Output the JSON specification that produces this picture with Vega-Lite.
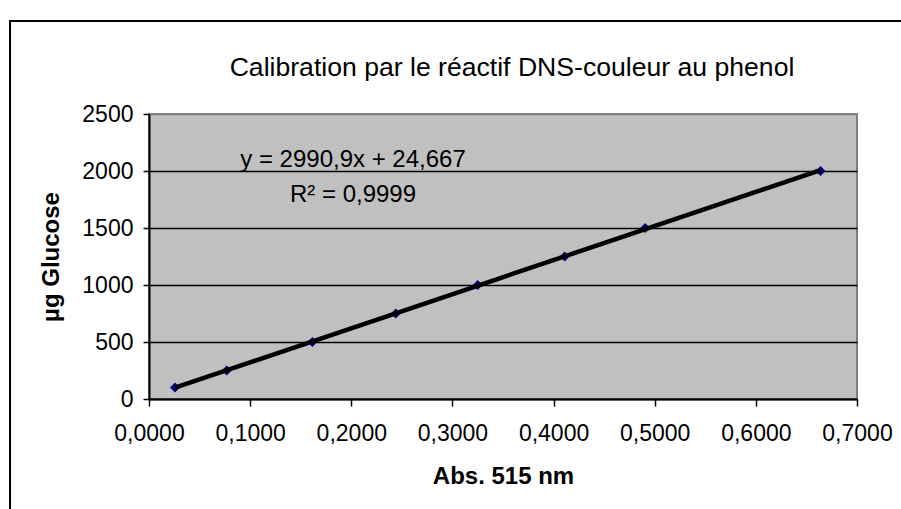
{
  "$schema": "https://vega.github.io/schema/vega-lite/v6.json",
  "width": 708,
  "height": 285,
  "autosize": {"type": "none"},
  "padding": {"left": 149, "top": 114, "right": 44, "bottom": 110},
  "background": "white",
  "title": {
    "text": "Calibration par le réactif DNS-couleur au phenol",
    "fontSize": 26.6,
    "fontWeight": "normal",
    "anchor": "middle",
    "frame": "group",
    "offset": -62,
    "dx": 9,
    "color": "black"
  },
  "config": {
    "font": "Liberation Sans",
    "locale": {"number": {"decimal": ",", "thousands": " ", "grouping": [3], "currency": ["", ""]}},
    "view": {"stroke": "#808080", "strokeWidth": 2, "fill": "#C0C0C0"}
  },
  "datasets": {
    "points": [
      {"abs": 0.0257, "glucose": 100},
      {"abs": 0.0768, "glucose": 250},
      {"abs": 0.1615, "glucose": 500},
      {"abs": 0.244, "glucose": 750},
      {"abs": 0.325, "glucose": 1000},
      {"abs": 0.411, "glucose": 1250},
      {"abs": 0.4905, "glucose": 1500},
      {"abs": 0.664, "glucose": 2000}
    ],
    "labels": [
      {"abs": 0.2017, "glucose": 2035, "text": "y = 2990,9x + 24,667"},
      {"abs": 0.2017, "glucose": 1728, "text": "R² = 0,9999"}
    ],
    "frame": [{"x1": -0.1374, "x2": 0.9, "y1": 3316, "y2": -1200}]
  },
  "encoding": {
    "x": {
      "field": "abs",
      "type": "quantitative",
      "scale": {"domain": [0, 0.7], "nice": false, "zero": false},
      "axis": {
        "title": "Abs. 515 nm",
        "values": [0, 0.1, 0.2, 0.3, 0.4, 0.5, 0.6, 0.7],
        "format": ".4f",
        "grid": false,
        "domainColor": "black",
        "domainWidth": 2,
        "tickColor": "black",
        "tickWidth": 1.5,
        "tickSize": 7,
        "labelFontSize": 23,
        "labelColor": "black",
        "labelPadding": 16,
        "labelFlush": false,
        "labelOverlap": false,
        "labelBound": false,
        "titleFontSize": 24,
        "titleFontWeight": "bold",
        "titleColor": "black",
        "titlePadding": 19
      }
    },
    "y": {
      "field": "glucose",
      "type": "quantitative",
      "scale": {"domain": [0, 2500], "nice": false, "zero": false},
      "axis": {
        "title": "µg Glucose",
        "values": [0, 500, 1000, 1500, 2000, 2500],
        "format": "d",
        "grid": true,
        "gridColor": {"condition": {"test": "datum.value >= 2500", "value": "#808080"}, "value": "black"},
        "gridWidth": 1.5,
        "gridOpacity": 1,
        "domainColor": "black",
        "domainWidth": 2,
        "tickColor": "black",
        "tickWidth": 1.5,
        "tickSize": 6,
        "labelFontSize": 23,
        "labelColor": "black",
        "labelPadding": 10,
        "labelOverlap": false,
        "titleFontSize": 24,
        "titleFontWeight": "bold",
        "titleColor": "black",
        "titlePadding": 18
      }
    }
  },
  "layer": [
    {
      "data": {"name": "frame"},
      "mark": {"type": "rect", "fill": null, "stroke": "black", "strokeWidth": 2, "clip": false},
      "encoding": {
        "x": {"field": "x1", "type": "quantitative"},
        "x2": {"field": "x2"},
        "y": {"field": "y1", "type": "quantitative"},
        "y2": {"field": "y2"}
      }
    },
    {
      "data": {"name": "points"},
      "mark": {"type": "point", "shape": "diamond", "filled": true, "color": "#000080", "size": 100, "opacity": 1}
    },
    {
      "data": {"name": "points"},
      "transform": [{"regression": "glucose", "on": "abs"}],
      "mark": {"type": "line", "color": "black", "strokeWidth": 4.5}
    },
    {
      "data": {"name": "labels"},
      "mark": {"type": "text", "fontSize": 24, "align": "center", "baseline": "alphabetic", "color": "black"},
      "encoding": {"text": {"field": "text"}}
    }
  ]
}
